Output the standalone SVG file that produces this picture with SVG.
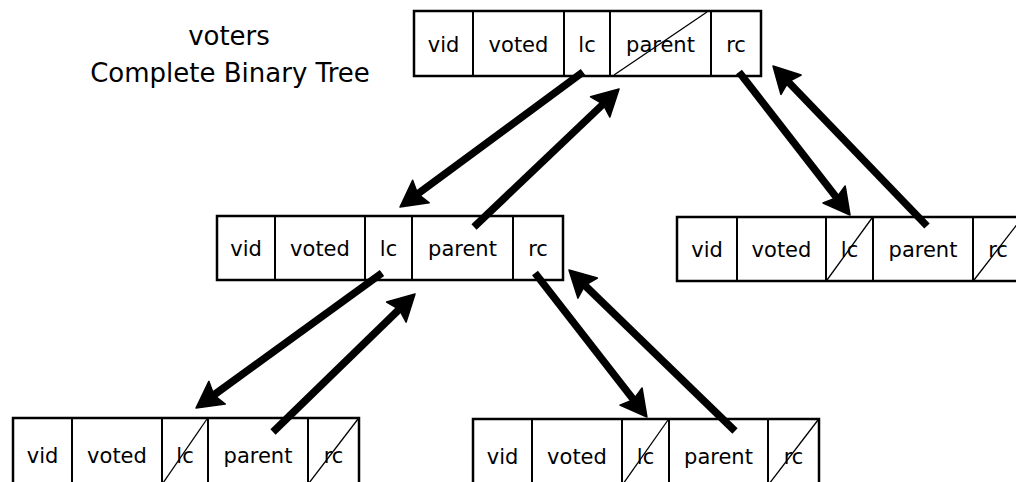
<svg xmlns="http://www.w3.org/2000/svg" width="1016" height="482" viewBox="0 0 1016 482">
<style>
.box{fill:#fff;stroke:#000;stroke-width:2.5}
.div{stroke:#000;stroke-width:2}
.slash{stroke:#000;stroke-width:1.3}
.t{font-family:"DejaVu Sans","Liberation Sans",sans-serif;font-size:21px;text-anchor:middle;fill:#000}
.title{font-family:"DejaVu Sans","Liberation Sans",sans-serif;font-size:26px;text-anchor:middle;fill:#000}
.arr{stroke:#000;stroke-width:7.5;fill:none;marker-end:url(#ah)}
</style>
<defs>
<marker id="ah" markerUnits="userSpaceOnUse" viewBox="-10 -15 30 30" refX="0" refY="0" markerWidth="30" markerHeight="30" orient="auto">
<path d="M18,0 L-8,-14 L-4,0 L-8,14 Z" fill="#000" stroke="#000" stroke-width="1.5" stroke-linejoin="round"/>
</marker>
</defs>
<rect width="1016" height="482" fill="#fff"/>
<g id="title">
<text class="title" x="229" y="45">voters</text>
<text class="title" x="230" y="82">Complete Binary Tree</text>
</g>
<g id="node-root">
<rect class="box" x="414" y="11" width="347" height="65"/>
<line class="div" x1="473" y1="11" x2="473" y2="76"/>
<line class="div" x1="564" y1="11" x2="564" y2="76"/>
<line class="div" x1="610" y1="11" x2="610" y2="76"/>
<line class="div" x1="711" y1="11" x2="711" y2="76"/>
<line class="slash" x1="614" y1="75" x2="707" y2="12"/>
<text class="t" x="443.5" y="52">vid</text>
<text class="t" x="518.5" y="52">voted</text>
<text class="t" x="587" y="52">lc</text>
<text class="t" x="660.5" y="52">parent</text>
<text class="t" x="736" y="52">rc</text>
</g>
<g id="node-mid">
<rect class="box" x="217" y="216" width="346" height="64"/>
<line class="div" x1="275" y1="216" x2="275" y2="280"/>
<line class="div" x1="365" y1="216" x2="365" y2="280"/>
<line class="div" x1="412" y1="216" x2="412" y2="280"/>
<line class="div" x1="513" y1="216" x2="513" y2="280"/>
<text class="t" x="246" y="256">vid</text>
<text class="t" x="320" y="256">voted</text>
<text class="t" x="388.5" y="256">lc</text>
<text class="t" x="462.5" y="256">parent</text>
<text class="t" x="538" y="256">rc</text>
</g>
<g id="node-right">
<rect class="box" x="677" y="217" width="346" height="64"/>
<line class="div" x1="737" y1="217" x2="737" y2="281"/>
<line class="div" x1="826" y1="217" x2="826" y2="281"/>
<line class="div" x1="873" y1="217" x2="873" y2="281"/>
<line class="div" x1="973" y1="217" x2="973" y2="281"/>
<line class="slash" x1="827" y1="280" x2="872" y2="218"/>
<line class="slash" x1="974" y1="280" x2="1022" y2="218"/>
<text class="t" x="707" y="257">vid</text>
<text class="t" x="781.5" y="257">voted</text>
<text class="t" x="849.5" y="257">lc</text>
<text class="t" x="923" y="257">parent</text>
<text class="t" x="998" y="257">rc</text>
</g>
<g id="node-bl">
<rect class="box" x="13" y="418" width="346" height="66"/>
<line class="div" x1="72" y1="418" x2="72" y2="484"/>
<line class="div" x1="162" y1="418" x2="162" y2="484"/>
<line class="div" x1="208" y1="418" x2="208" y2="484"/>
<line class="div" x1="308" y1="418" x2="308" y2="484"/>
<line class="slash" x1="163" y1="483" x2="207" y2="419"/>
<line class="slash" x1="309" y1="483" x2="358" y2="419"/>
<text class="t" x="42.5" y="463">vid</text>
<text class="t" x="117" y="463">voted</text>
<text class="t" x="185" y="463">lc</text>
<text class="t" x="258" y="463">parent</text>
<text class="t" x="333.5" y="463">rc</text>
</g>
<g id="node-br">
<rect class="box" x="473" y="419" width="346" height="66"/>
<line class="div" x1="532" y1="419" x2="532" y2="485"/>
<line class="div" x1="622" y1="419" x2="622" y2="485"/>
<line class="div" x1="669" y1="419" x2="669" y2="485"/>
<line class="div" x1="768" y1="419" x2="768" y2="485"/>
<line class="slash" x1="623" y1="484" x2="668" y2="420"/>
<line class="slash" x1="769" y1="484" x2="818" y2="420"/>
<text class="t" x="502.5" y="464">vid</text>
<text class="t" x="577" y="464">voted</text>
<text class="t" x="645.5" y="464">lc</text>
<text class="t" x="718.5" y="464">parent</text>
<text class="t" x="793.5" y="464">rc</text>
</g>
<g id="connectors">
<line class="arr" x1="583" y1="72" x2="414.5" y2="196.3"/>
<line class="arr" x1="474" y1="227" x2="606" y2="101.4"/>
<line class="arr" x1="739" y1="72" x2="839" y2="200.8"/>
<line class="arr" x1="927" y1="226" x2="785.5" y2="79"/>
<line class="arr" x1="382" y1="273" x2="210.6" y2="397.4"/>
<line class="arr" x1="273" y1="432" x2="402.1" y2="306.5"/>
<line class="arr" x1="535" y1="273" x2="635.9" y2="402.8"/>
<line class="arr" x1="735" y1="431" x2="581.9" y2="282.5"/>
</g>
</svg>
